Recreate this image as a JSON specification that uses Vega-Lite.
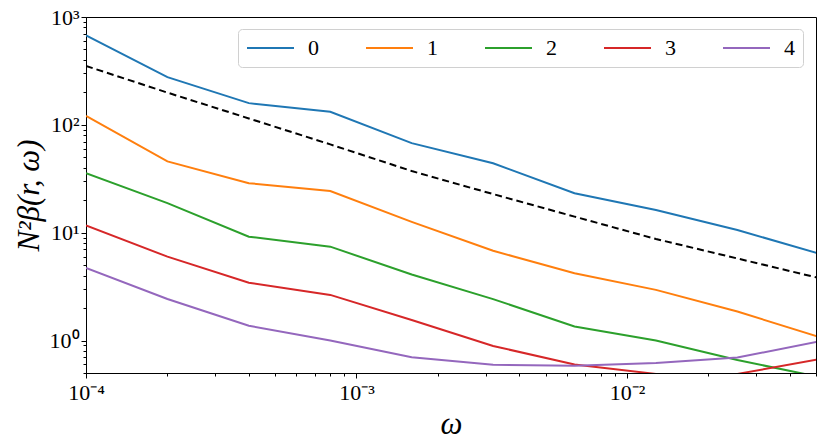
{
  "$schema": "https://vega.github.io/schema/vega-lite/v6.json",
  "autosize": "none",
  "width": 730,
  "height": 356,
  "padding": {"left": 86, "top": 17, "right": 14, "bottom": 74},
  "background": "white",
  "config": {
    "view": {"stroke": "black", "strokeWidth": 1},
    "font": "Liberation Serif",
    "axis": {
      "grid": false,
      "domainColor": "black",
      "tickColor": "black",
      "labelColor": "black",
      "titleColor": "black",
      "labelFont": "Liberation Serif",
      "titleFont": "Liberation Serif",
      "labelFontSize": 22,
      "titleFontSize": 31,
      "titleFontWeight": "normal",
      "titleFontStyle": "italic",
      "labelOverlap": false,
      "labelFlush": false
    }
  },
  "datasets": {
    "curves": [
      {"w": 0.0001, "v": 676, "n": "0"},
      {"w": 0.0002, "v": 277, "n": "0"},
      {"w": 0.0004, "v": 159, "n": "0"},
      {"w": 0.0008, "v": 132, "n": "0"},
      {"w": 0.0016, "v": 67.7, "n": "0"},
      {"w": 0.0032, "v": 44, "n": "0"},
      {"w": 0.0064, "v": 23.2, "n": "0"},
      {"w": 0.0128, "v": 16.2, "n": "0"},
      {"w": 0.0256, "v": 10.6, "n": "0"},
      {"w": 0.0512, "v": 6.4, "n": "0"},
      {"w": 0.0001, "v": 121, "n": "1"},
      {"w": 0.0002, "v": 45.8, "n": "1"},
      {"w": 0.0004, "v": 28.8, "n": "1"},
      {"w": 0.0008, "v": 24.3, "n": "1"},
      {"w": 0.0016, "v": 12.6, "n": "1"},
      {"w": 0.0032, "v": 6.8, "n": "1"},
      {"w": 0.0064, "v": 4.2, "n": "1"},
      {"w": 0.0128, "v": 2.95, "n": "1"},
      {"w": 0.0256, "v": 1.86, "n": "1"},
      {"w": 0.0512, "v": 1.08, "n": "1"},
      {"w": 0.0001, "v": 35.7, "n": "2"},
      {"w": 0.0002, "v": 18.8, "n": "2"},
      {"w": 0.0004, "v": 9.18, "n": "2"},
      {"w": 0.0008, "v": 7.42, "n": "2"},
      {"w": 0.0016, "v": 4.1, "n": "2"},
      {"w": 0.0032, "v": 2.42, "n": "2"},
      {"w": 0.0064, "v": 1.35, "n": "2"},
      {"w": 0.0128, "v": 1.0, "n": "2"},
      {"w": 0.0256, "v": 0.66, "n": "2"},
      {"w": 0.0512, "v": 0.46, "n": "2"},
      {"w": 0.0001, "v": 11.7, "n": "3"},
      {"w": 0.0002, "v": 6.0, "n": "3"},
      {"w": 0.0004, "v": 3.44, "n": "3"},
      {"w": 0.0008, "v": 2.65, "n": "3"},
      {"w": 0.0016, "v": 1.55, "n": "3"},
      {"w": 0.0032, "v": 0.89, "n": "3"},
      {"w": 0.0064, "v": 0.6, "n": "3"},
      {"w": 0.0128, "v": 0.49, "n": "3"},
      {"w": 0.0256, "v": 0.49, "n": "3"},
      {"w": 0.0512, "v": 0.67, "n": "3"},
      {"w": 0.0001, "v": 4.71, "n": "4"},
      {"w": 0.0002, "v": 2.43, "n": "4"},
      {"w": 0.0004, "v": 1.37, "n": "4"},
      {"w": 0.0008, "v": 1.0, "n": "4"},
      {"w": 0.0016, "v": 0.7, "n": "4"},
      {"w": 0.0032, "v": 0.596, "n": "4"},
      {"w": 0.0064, "v": 0.583, "n": "4"},
      {"w": 0.0128, "v": 0.618, "n": "4"},
      {"w": 0.0256, "v": 0.696, "n": "4"},
      {"w": 0.0512, "v": 0.98, "n": "4"}
    ],
    "reference": [
      {"w": 0.0001, "v": 352},
      {"w": 0.0002, "v": 199},
      {"w": 0.0004, "v": 114.6},
      {"w": 0.0008, "v": 65.9},
      {"w": 0.0016, "v": 37.3},
      {"w": 0.0032, "v": 22.8},
      {"w": 0.0064, "v": 14.1},
      {"w": 0.0128, "v": 8.74},
      {"w": 0.0256, "v": 5.77},
      {"w": 0.0512, "v": 3.8}
    ]
  },
  "encoding": {
    "x": {
      "field": "w",
      "type": "quantitative",
      "title": "ω",
      "scale": {"type": "log", "domain": [0.0001, 0.05], "nice": false},
      "axis": {
        "values": [0.0001, 0.0002, 0.0003, 0.0004, 0.0005, 0.0006, 0.0007, 0.0008, 0.0009,
                   0.001, 0.002, 0.003, 0.004, 0.005, 0.006, 0.007, 0.008, 0.009,
                   0.01, 0.02, 0.03, 0.04, 0.05],
        "labelExpr": "abs(datum.value - 0.0001) < 1e-9 ? '10⁻⁴' : abs(datum.value - 0.001) < 1e-9 ? '10⁻³' : abs(datum.value - 0.01) < 1e-9 ? '10⁻²' : ''",
        "tickSize": {"condition": {"test": "abs(log(datum.value) / LN10 - round(log(datum.value) / LN10)) < 1e-6", "value": 5}, "value": 3},
        "labelPadding": 4,
        "titlePadding": 6
      }
    },
    "y": {
      "field": "v",
      "type": "quantitative",
      "title": "N²β(r, ω)",
      "scale": {"type": "log", "domain": [0.5, 1000], "nice": false},
      "axis": {
        "values": [0.5, 0.6, 0.7, 0.8, 0.9, 1, 2, 3, 4, 5, 6, 7, 8, 9,
                   10, 20, 30, 40, 50, 60, 70, 80, 90,
                   100, 200, 300, 400, 500, 600, 700, 800, 900, 1000],
        "labelExpr": "datum.value == 1 ? '10⁰' : datum.value == 10 ? '10¹' : datum.value == 100 ? '10²' : datum.value == 1000 ? '10³' : ''",
        "tickSize": {"condition": {"test": "abs(log(datum.value) / LN10 - round(log(datum.value) / LN10)) < 1e-6", "value": 5}, "value": 3},
        "labelPadding": 2,
        "titlePadding": 4
      }
    }
  },
  "layer": [
    {
      "data": {"name": "curves"},
      "mark": {"type": "line", "strokeWidth": 2, "clip": true},
      "encoding": {
        "color": {
          "field": "n",
          "type": "nominal",
          "scale": {
            "domain": ["0", "1", "2", "3", "4"],
            "range": ["#1f77b4", "#ff7f0e", "#2ca02c", "#d62728", "#9467bd"]
          },
          "legend": {
            "title": null,
            "orient": "none",
            "legendX": 152,
            "legendY": 12,
            "direction": "horizontal",
            "columns": 5,
            "symbolType": "stroke",
            "symbolSize": 2209,
            "symbolStrokeWidth": 2,
            "clipHeight": 22,
            "labelFont": "Liberation Serif",
            "labelFontSize": 22,
            "labelColor": "black",
            "labelOffset": 13,
            "columnPadding": 46,
            "padding": 8,
            "fillColor": "white",
            "strokeColor": "#d0d0d0",
            "cornerRadius": 4
          }
        }
      }
    },
    {
      "data": {"name": "reference"},
      "mark": {"type": "line", "color": "black", "strokeWidth": 2, "strokeDash": [7, 4], "clip": true},
      "encoding": {}
    }
  ]
}
